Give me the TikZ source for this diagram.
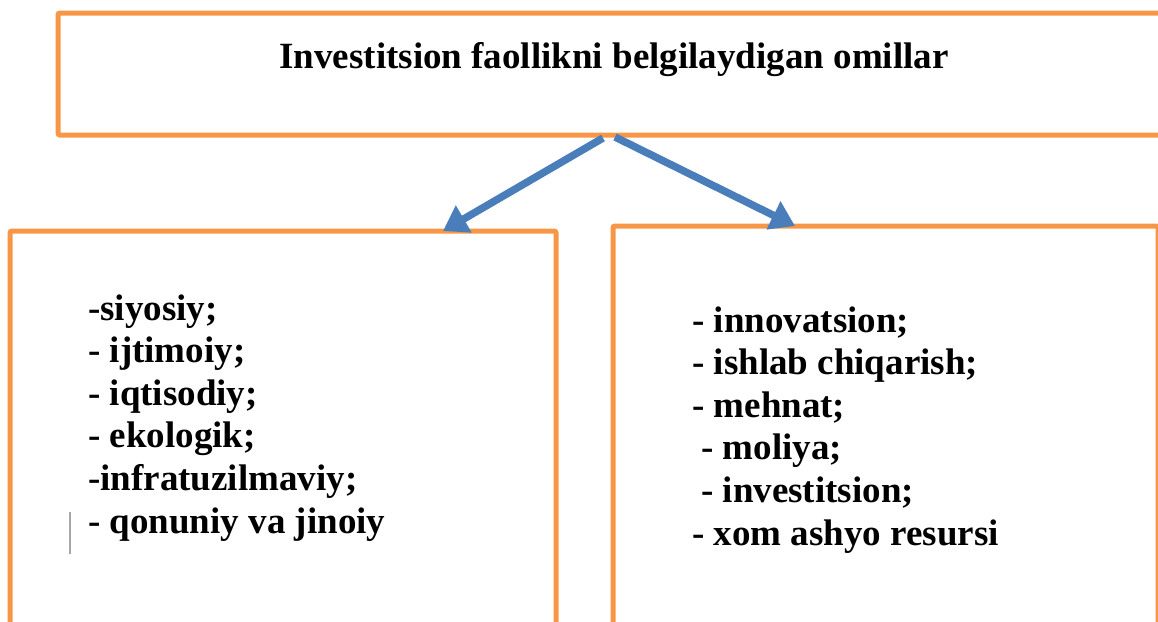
\documentclass[tikz,border=0pt]{standalone}
\usepackage{fontspec}
\setmainfont{Liberation Serif}
\usetikzlibrary{arrows.meta}
\definecolor{boxorange}{HTML}{F79646}
\definecolor{arrowblue}{HTML}{4A7EBB}

\begin{document}
\begin{tikzpicture}[x=1pt, y=-1pt,
    box/.style={draw=boxorange, line width=5pt, rounded corners=2pt, anchor=north west, inner sep=0pt, outer sep=0pt},
    arrow/.style={draw=arrowblue, line width=7.5pt, -{Triangle[length=24pt,width=30pt]}},
    heading/.style={font=\fontsize{37}{42.6}\selectfont\bfseries, anchor=base, inner sep=0pt},
    factors/.style={font=\fontsize{37}{42.6}\selectfont\bfseries, align=left, anchor=base west, inner sep=0pt}]
    \useasboundingbox (0,0) rectangle (1158,621);
    \clip (0,0) rectangle (1158,621);
    % boxes
    \node[box, minimum width=1112pt, minimum height=122pt] (topbox) at (58,13) {};
    \node[box, minimum width=546pt, minimum height=430pt] (leftbox) at (10,231) {};
    \node[box, minimum width=545pt, minimum height=435pt] (rightbox) at (613,226) {};
    % texts (base = last line)
    \node[heading] (title) at ([yshift=-55pt]topbox.north) {Investitsion faollikni belgilaydigan omillar};
    \node[factors] (external) at ([xshift=78pt,yshift=-302pt]leftbox.north west)
        {-siyosiy;\\ - ijtimoiy;\\ - iqtisodiy;\\ - ekologik;\\ -infratuzilmaviy;\\ - qonuniy va jinoiy};
    \node[factors] (internal) at ([xshift=79pt,yshift=-319pt]rightbox.north west)
        {- innovatsion;\\ - ishlab chiqarish;\\ - mehnat;\\ \hspace*{9pt}- moliya;\\ \hspace*{9pt}- investitsion;\\ - xom ashyo resursi};
    % arrows
    \draw[arrow] ([xshift=-11pt,yshift=-3pt]topbox.south) -- ([xshift=433pt]leftbox.north west);
    \draw[arrow] ([xshift=1pt,yshift=-2pt]topbox.south) -- ([xshift=182pt]rightbox.north west);
    % cursor mark
    \draw[gray!70, line width=1.2pt] (70,512) -- (70,554);
\end{tikzpicture}
\end{document}
